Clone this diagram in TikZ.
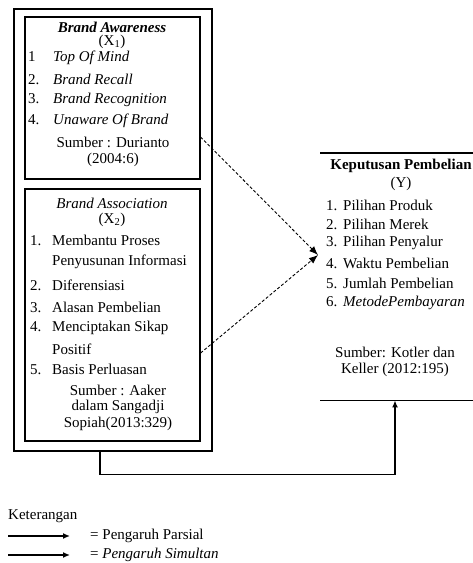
\documentclass[tikz,border=0pt]{standalone}
\usepackage{fontspec}
\setmainfont{Liberation Serif}
\usetikzlibrary{arrows.meta,calc}
\tikzstyle{frame}=[rectangle, draw=black, line width=1.6pt, inner sep=0pt, anchor=north west]
\tikzstyle{txt}=[inner sep=0pt, anchor=center, font=\fontsize{15}{18}\selectfont]
\tikzstyle{item}=[txt, anchor=west]
\tikzstyle{partial}=[line width=0.9pt, densely dashed, -{Latex[length=9pt,width=7pt]}]
\tikzstyle{simul}=[line width=1.6pt, -{Latex[length=7pt,width=6pt]}]
% numbered line: name, x, y, width of number, number, text
\newcommand{\listitem}[6]
{
  \node[item](#1) at (#2,#3){\makebox[#4][l]{#5}#6};
}

\begin{document}
\begin{tikzpicture}[x=1pt, y=-1pt]
	\useasboundingbox (0,0) rectangle (473,563);

	% left side: the two brand variables
	\node[frame, minimum width=198pt, minimum height=442pt](outer) at (13,8){};
	\node[frame, minimum width=175pt, minimum height=162pt](aware) at (24,16){};
	\node[frame, minimum width=175pt, minimum height=252pt](assoc) at (24,188){};

	\node[txt](awtitle) at (112,27){\textbf{\textit{Brand Awareness}}};
	\node[txt](awvar) at (112,42){(X\textsubscript{1})};
	\listitem{aw1}{28}{58}{25pt}{1}{\textit{Top Of Mind}}
	\listitem{aw2}{28}{79}{25pt}{2.}{\textit{Brand Recall}}
	\listitem{aw3}{28}{100}{25pt}{3.}{\textit{Brand Recognition}}
	\listitem{aw4}{28}{121}{25pt}{4.}{\textit{Unaware Of Brand}}
	\node[txt](awsrc1) at (113,142){Sumber : Durianto};
	\node[txt](awsrc2) at (113,160){(2004:6)};

	\node[txt](astitle) at (112,203){\textit{Brand Association}};
	\node[txt](asvar) at (112,220){(X\textsubscript{2})};
	\listitem{as1}{30}{240}{22pt}{1.}{Membantu Proses}
	\node[item](as1b) at (52,262){Penyusunan Informasi};
	\listitem{as2}{30}{285}{22pt}{2.}{Diferensiasi}
	\listitem{as3}{30}{307}{22pt}{3.}{Alasan Pembelian}
	\listitem{as4}{30}{328}{22pt}{4.}{Menciptakan Sikap}
	\node[item](as4b) at (52,349){Positif};
	\listitem{as5}{30}{369}{22pt}{5.}{Basis Perluasan}
	\node[txt](assrc1) at (118,390){Sumber : Aaker};
	\node[txt](assrc2) at (118,407){dalam Sangadji};
	\node[txt](assrc3) at (118,424){Sopiah(2013:329)};

	% right side: the decision
	\node[rectangle, inner sep=0pt, anchor=north west, minimum width=153pt, minimum height=247pt](decision) at (320,153){};
	\draw[line width=1.6pt] (decision.north west) -- (decision.north east);
	\draw[line width=1.6pt] (decision.south west) -- (decision.south east);

	\node[txt](dctitle) at (401,166){\textbf{Keputusan Pembelian}};
	\node[txt](dcvar) at (401,184){(Y)};
	\listitem{dc1}{326}{205}{17pt}{1.}{Pilihan Produk}
	\listitem{dc2}{326}{224}{17pt}{2.}{Pilihan Merek}
	\listitem{dc3}{326}{243}{17pt}{3.}{Pilihan Penyalur}
	\listitem{dc4}{326}{263}{17pt}{4.}{Waktu Pembelian}
	\listitem{dc5}{326}{283}{17pt}{5.}{Jumlah Pembelian}
	\listitem{dc6}{326}{303}{17pt}{6.}{\textit{MetodePembayaran}}
	\node[txt](dcsrc1) at (395,352){Sumber: Kotler dan};
	\node[txt](dcsrc2) at (395,370){Keller (2012:195)};

	% connectors
	\coordinate (a1) at ($(aware.north east)+(0,121)$);
	\coordinate (a2) at ($(assoc.north east)+(0,165)$);
	\coordinate (tip) at (318,255);
	\draw[partial] (a1) -- (tip);
	\draw[partial] (a2) -- (tip);

	\coordinate (b1) at ($(outer.south west)+(87,0)$);
	\coordinate (b2) at ($(decision.south west)+(75,0)$);
	\draw[simul] (b1) -- ++(0,23) -| (b2);

	% legend
	\node[item](legend) at (8,516){Keterangan};
	\coordinate (l1a) at (8,536);
	\coordinate (l1b) at (70,536);
	\coordinate (l2a) at (8,555);
	\coordinate (l2b) at (70,555);
	\draw[simul] (l1a) -- (l1b);
	\draw[simul] (l2a) -- (l2b);
	\node[item](lg1) at (90,536){= Pengaruh Parsial};
	\node[item](lg2) at (90,555){= \textit{Pengaruh Simultan}};

\end{tikzpicture}
\end{document}
